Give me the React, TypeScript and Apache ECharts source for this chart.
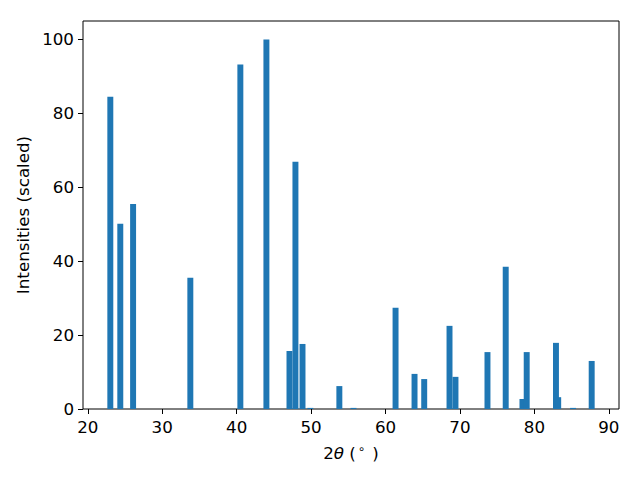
import React, { useEffect, useRef } from "react";
import * as echarts from "echarts";

const twoTheta: number[] = [
  23.03, 24.37, 26.09, 33.78, 40.5, 44.0, 47.1, 47.9, 48.85, 49.9, 53.8, 55.7,
  61.35, 63.9, 65.2, 68.6, 69.4, 73.7, 76.15, 78.4, 78.97, 82.9, 83.2, 85.2, 87.7,
];
const intensities: number[] = [
  84.5, 50.1, 55.5, 35.5, 93.2, 100, 15.7, 66.9, 17.6, 0.3, 6.2, 0.3,
  27.4, 9.5, 8.1, 22.5, 8.7, 15.4, 38.5, 2.7, 15.4, 17.9, 3.2, 0.3, 13.0,
];
const xTicks: number[] = [20, 30, 40, 50, 60, 70, 80, 90];
const yTicks: number[] = [0, 20, 40, 60, 80, 100];
const barWidth = 0.8;

const FONT = "DejaVu Sans";
const FS = 16.7;

export default function App() {
  const ref = useRef<HTMLDivElement>(null);
  useEffect(() => {
    document.body.style.margin = "0";
    if (!ref.current) return;
    const chart = echarts.init(ref.current, undefined, { renderer: "svg" });
    const data = twoTheta.map((x, i) => [x, intensities[i]]);
    chart.setOption({
      animation: false,
      backgroundColor: "#ffffff",
      grid: {
        left: 83,
        right: 21,
        top: 21,
        bottom: 71,
        show: true,
        borderColor: "#000000",
        borderWidth: 1,
        backgroundColor: "transparent",
      },
      xAxis: {
        type: "value",
        min: 19.36,
        max: 91.37,
        axisLine: { show: false },
        splitLine: { show: false },
        axisTick: {
          show: true,
          inside: false,
          length: 5,
          lineStyle: { color: "#000", width: 1 },
          customValues: xTicks,
        },
        axisLabel: {
          customValues: xTicks,
          margin: 9,
          color: "#000",
          fontFamily: FONT,
          fontSize: FS,
        },
        name: "{n|2}{i|θ}{n| (}{s|∘}{n| )}",
        nameLocation: "middle",
        nameGap: 34,
        nameTextStyle: {
          color: "#000",
          fontFamily: FONT,
          fontSize: FS,
          rich: {
            n: { fontFamily: FONT, fontSize: FS, color: "#000" },
            i: { fontFamily: FONT, fontSize: FS, fontStyle: "italic", color: "#000" },
            s: { fontFamily: FONT, fontSize: 11.7, color: "#000", padding: [0, 2, 8, 2] },
          },
        },
      },
      yAxis: {
        type: "value",
        min: 0,
        max: 105,
        axisLine: { show: false },
        splitLine: { show: false },
        axisTick: {
          show: true,
          inside: false,
          length: 5,
          lineStyle: { color: "#000", width: 1 },
          customValues: yTicks,
        },
        axisLabel: {
          customValues: yTicks,
          margin: 9,
          color: "#000",
          fontFamily: FONT,
          fontSize: FS,
        },
        name: "Intensities (scaled)",
        nameLocation: "middle",
        nameRotate: 90,
        nameGap: 46,
        nameTextStyle: { color: "#000", fontFamily: FONT, fontSize: FS },
      },
      series: [
        {
          type: "custom",
          data,
          clip: true,
          renderItem: (params: any, api: any) => {
            const x = api.value(0);
            const y = api.value(1);
            const p1 = api.coord([x - barWidth / 2, y]);
            const p2 = api.coord([x + barWidth / 2, 0]);
            return {
              type: "rect",
              shape: { x: p1[0], y: p1[1], width: p2[0] - p1[0], height: p2[1] - p1[1] },
              style: { fill: "#1f77b4" },
            };
          },
        },
      ],
    });
    return () => chart.dispose();
  }, []);
  return <div ref={ref} style={{ width: 640, height: 480 }} />;
}
